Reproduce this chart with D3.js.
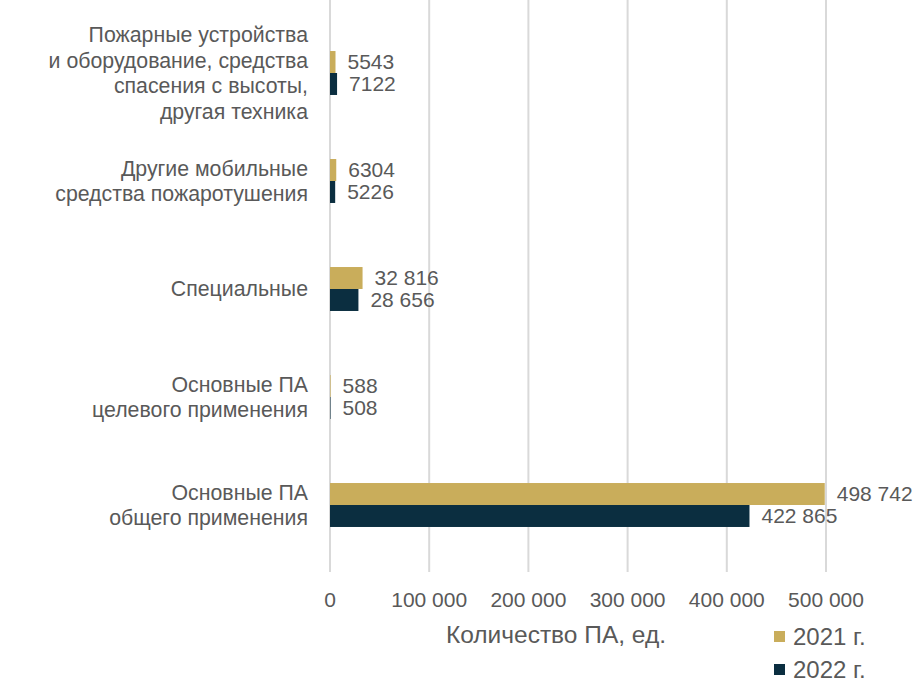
<!DOCTYPE html>
<html>
<head>
<meta charset="utf-8">
<script src="https://cdn.jsdelivr.net/npm/d3@7"></script>
<style>
  body { margin: 0; background: #fff; }
  text { font-family: "Liberation Sans", Arial, sans-serif; fill: #595959; }
</style>
</head>
<body>
<div id="chart"></div>
<script>
const categories = [
  "Пожарные устройства|и оборудование, средства|спасения с высоты,|другая техника",
  "Другие мобильные|средства пожаротушения",
  "Специальные",
  "Основные ПА|целевого применения",
  "Основные ПА|общего применения"
];
const values2021 = [5543, 6304, 32816, 588, 498742];
const values2022 = [7122, 5226, 28656, 508, 422865];
const seriesNames = ["2021 г.", "2022 г."];
const ticks = [0, 100000, 200000, 300000, 400000, 500000];

const COLORS = ["#c9ad5b", "#0b2e40"];
const WIDTH = 914, HEIGHT = 683;
const PLOT = { left: 330, right: 826, top: 19, bottom: 559, gridBottom: 572 };

const fmt = (v) => v < 10000 ? String(v) : d3.format(",")(v).replace(/,/g, " ");

const svg = d3.select("#chart").append("svg")
  .attr("width", WIDTH).attr("height", HEIGHT);

const x = d3.scaleLinear().domain([0, 500000]).range([PLOT.left, PLOT.right]);
const y = d3.scaleBand().domain(categories)
  .range([PLOT.top, PLOT.bottom])
  .paddingInner(0.593).paddingOuter(0.2965);
const sub = d3.scaleBand().domain([0, 1]).range([0, y.bandwidth()]);

// gridlines
svg.append("g").selectAll("line").data(ticks).join("line")
  .attr("x1", (d) => x(d)).attr("x2", (d) => x(d))
  .attr("y1", 0).attr("y2", PLOT.gridBottom)
  .attr("stroke", "#d9d9d9").attr("stroke-width", 2);

// tick labels
svg.append("g").selectAll("text").data(ticks).join("text")
  .attr("x", (d) => x(d)).attr("y", 607)
  .attr("text-anchor", "middle")
  .attr("font-size", 21)
  .text((d) => fmt(d));

// bars
const series = [values2021, values2022];
series.forEach((vals, si) => {
  const g = svg.append("g");
  g.selectAll("rect").data(categories).join("rect")
    .attr("x", x(0))
    .attr("y", (c) => y(c) + sub(si))
    .attr("width", (c, i) => x(vals[i]) - x(0))
    .attr("height", sub.bandwidth())
    .attr("fill", COLORS[si]);
  g.selectAll("text").data(categories).join("text")
    .attr("x", (c, i) => x(vals[i]) + 12)
    .attr("y", (c) => y(c) + sub(si) + sub.bandwidth() / 2)
    .attr("dy", "0.35em")
    .attr("font-size", 21)
    .text((c, i) => fmt(vals[i]));
});

// category labels
const lineH = 25.5;
svg.append("g").selectAll("text").data(categories).join("text")
  .attr("text-anchor", "end")
  .attr("font-size", 21.3)
  .each(function (c) {
    const lines = c.split("|");
    const cy = y(c) + y.bandwidth() / 2;
    const t = d3.select(this);
    lines.forEach((ln, k) => {
      t.append("tspan")
        .attr("x", 308)
        .attr("y", cy + (k - (lines.length - 1) / 2) * lineH)
        .attr("dy", "0.35em")
        .text(ln);
    });
  });

// axis title
svg.append("text")
  .attr("x", 556).attr("y", 643)
  .attr("text-anchor", "middle")
  .attr("font-size", 24.5)
  .text("Количество ПА, ед.");

// legend
const legend = svg.append("g").selectAll("g").data(seriesNames).join("g")
  .attr("transform", (d, i) => `translate(774,${637 + i * 33})`);
legend.append("rect")
  .attr("x", 0).attr("y", -6).attr("width", 11).attr("height", 11)
  .attr("fill", (d, i) => COLORS[i]);
legend.append("text")
  .attr("x", 19).attr("dy", "0.35em")
  .attr("font-size", 24)
  .text((d) => d);
</script>
</body>
</html>
